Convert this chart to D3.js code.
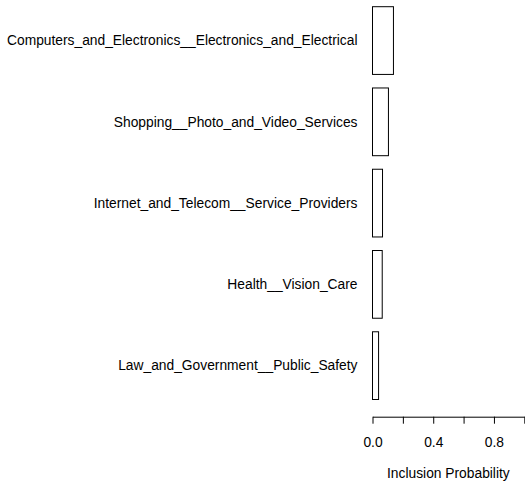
<!DOCTYPE html>
<html>
<head>
<meta charset="utf-8">
<script src="https://cdn.jsdelivr.net/npm/d3@7"></script>
<style>
  html, body { margin: 0; padding: 0; background: #fff; }
  svg { display: block; }
  text { font-family: "Liberation Sans", Arial, Helvetica, sans-serif; fill: #000; }
</style>
</head>
<body>
<svg id="chart" width="525" height="482"></svg>
<script>
// Categories listed top to bottom, with their inclusion probabilities
const categories = [
  "Computers_and_Electronics__Electronics_and_Electrical",
  "Shopping__Photo_and_Video_Services",
  "Internet_and_Telecom__Service_Providers",
  "Health__Vision_Care",
  "Law_and_Government__Public_Safety"
];
const probabilities = [0.138, 0.105, 0.066, 0.064, 0.040];
const tickValues = [0, 0.2, 0.4, 0.6, 0.8, 1.0];
const tickLabels = ["0.0", "", "0.4", "", "0.8", ""];
const axisTitle = "Inclusion Probability";

const fontSize = "13.8px";
const svg = d3.select("#chart");

// Horizontal value scale
const x = d3.scaleLinear().domain([0, 1]).range([372.5, 524.3]);

// Bar slots: each bar is 1 unit wide with 0.2 spacing, top bar first
const slot = 1.2, space = 0.2;
const n = categories.length;
const y = d3.scaleLinear().domain([n * slot, space]).range([6.7, 399.5]);

const bars = svg.append("g");
categories.forEach((c, i) => {
  const top = n * slot - i * slot;
  const bottom = top - 1;
  bars.append("rect")
    .attr("x", x(0))
    .attr("y", y(top))
    .attr("width", x(probabilities[i]) - x(0))
    .attr("height", y(bottom) - y(top))
    .attr("fill", "#ffffff")
    .attr("stroke", "#000")
    .attr("stroke-width", 1);
  svg.append("text")
    .attr("x", 357.5)
    .attr("y", y(top - 0.5))
    .attr("dy", "0.35em")
    .attr("text-anchor", "end")
    .attr("font-size", fontSize)
    .text(c);
});

// Bottom axis
const axisY = 416.7;
const axis = d3.axisBottom(x)
  .tickValues(tickValues)
  .tickFormat((d, i) => tickLabels[i])
  .tickSize(7)
  .tickPadding(14)
  .tickSizeOuter(0);
const ag = svg.append("g")
  .attr("transform", `translate(0,${axisY})`)
  .call(axis);
ag.select(".domain").attr("stroke", "#000").attr("stroke-width", 1);
ag.selectAll(".tick line").attr("stroke", "#000").attr("stroke-width", 1);
ag.selectAll(".tick text")
  .attr("font-size", fontSize)
  .attr("font-family", "Liberation Sans, Arial, sans-serif")
  .attr("fill", "#000");

svg.append("text")
  .attr("x", x(0.5))
  .attr("y", 473)
  .attr("dy", "0.35em")
  .attr("text-anchor", "middle")
  .attr("font-size", fontSize)
  .text(axisTitle);
</script>
</body>
</html>
